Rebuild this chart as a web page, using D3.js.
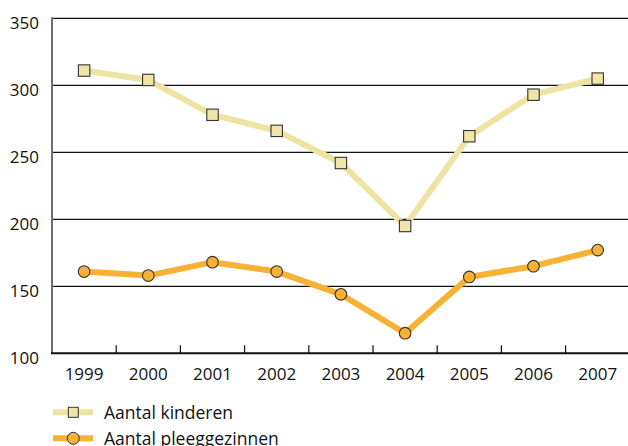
<!DOCTYPE html>
<html><head><meta charset="utf-8">
<script src="https://cdn.jsdelivr.net/npm/d3@7"></script>
<style>body{margin:0;background:#fff}svg{display:block}text{font-family:"Open Sans",sans-serif;fill:#111}</style>
</head><body>
<svg id="c" width="628" height="446"></svg>
<script>
const years = ["1999","2000","2001","2002","2003","2004","2005","2006","2007"];
const kinderen = [311, 304, 278, 266, 242, 195, 262, 293, 305];
const pleeggezinnen = [161, 158, 168, 161, 144, 115, 157, 165, 177];
const yTicks = [100, 150, 200, 250, 300, 350];
const seriesNames = ["Aantal kinderen", "Aantal pleeggezinnen"];

const svg = d3.select("#c");
const L = 52, R = 629.8, T = 18.3, B = 353.3;
const xb = d3.scaleBand().domain(years).range([L, R]);
const x = d3.scalePoint().domain(years).range([L, R]).padding(0.5);
const y = d3.scaleLinear().domain([100, 350]).range([B, T]);

// gridlines
svg.append("g").selectAll("line").data(yTicks.filter(v => v > 100)).join("line")
  .attr("x1", L).attr("x2", 628).attr("y1", d => y(d)).attr("y2", d => y(d))
  .attr("stroke", "#111").attr("stroke-width", 1.2);

// y labels
svg.append("g").selectAll("text").data(yTicks).join("text")
  .attr("x", 39).attr("y", d => y(d) + 10.5).attr("text-anchor", "end")
  .attr("font-size", 17).text(d => d);

// left axis
svg.append("line").attr("x1", L).attr("x2", L).attr("y1", T - 1).attr("y2", B)
  .attr("stroke", "#6e6e6e").attr("stroke-width", 2);
// bottom axis
svg.append("line").attr("x1", L - 1).attr("x2", 628).attr("y1", B).attr("y2", B)
  .attr("stroke", "#111").attr("stroke-width", 2);
// x tick marks between categories
svg.append("g").selectAll("line").data(years.slice(1)).join("line")
  .attr("x1", d => xb(d)).attr("x2", d => xb(d)).attr("y1", B - 8).attr("y2", B)
  .attr("stroke", "#111").attr("stroke-width", 1.2);
// x labels
svg.append("g").selectAll("text").data(years).join("text")
  .attr("x", d => x(d)).attr("y", 379.5).attr("text-anchor", "middle")
  .attr("font-size", 17).text(d => d);

const cK = "#f0e5a6", cKs = "#efe3a3", cP = "#f8b134";
const line = d3.line().x((d, i) => x(years[i])).y(d => y(d));

svg.append("path").datum(kinderen).attr("d", line).attr("fill", "none")
  .attr("stroke", cKs).attr("stroke-width", 6).attr("stroke-linejoin", "round");
svg.append("path").datum(pleeggezinnen).attr("d", line).attr("fill", "none")
  .attr("stroke", cP).attr("stroke-width", 6).attr("stroke-linejoin", "round");

svg.append("g").selectAll("rect").data(kinderen).join("rect")
  .attr("x", (d, i) => x(years[i]) - 5.7).attr("y", d => y(d) - 5.7)
  .attr("width", 11.4).attr("height", 11.4)
  .attr("fill", cK).attr("stroke", "#333").attr("stroke-width", 1.1);
svg.append("g").selectAll("circle").data(pleeggezinnen).join("circle")
  .attr("cx", (d, i) => x(years[i])).attr("cy", d => y(d)).attr("r", 5.8)
  .attr("fill", cP).attr("stroke", "#333").attr("stroke-width", 1.1);

// legend
const lg = svg.append("g");
const ly = [412.3, 438.3];
seriesNames.forEach((name, i) => {
  lg.append("line").attr("x1", 53).attr("x2", 93).attr("y1", ly[i]).attr("y2", ly[i])
    .attr("stroke", i === 0 ? cKs : cP).attr("stroke-width", 6);
  if (i === 0) {
    lg.append("rect").attr("x", 73.3 - 5).attr("y", ly[i] - 5).attr("width", 10).attr("height", 10)
      .attr("fill", cK).attr("stroke", "#333").attr("stroke-width", 1);
  } else {
    lg.append("circle").attr("cx", 73.3).attr("cy", ly[i]).attr("r", 6)
      .attr("fill", cP).attr("stroke", "#333").attr("stroke-width", 1);
  }
  lg.append("text").attr("x", 104).attr("y", ly[i] + 6.8).attr("font-size", 17.5).text(name);
});
</script>
</body></html>
